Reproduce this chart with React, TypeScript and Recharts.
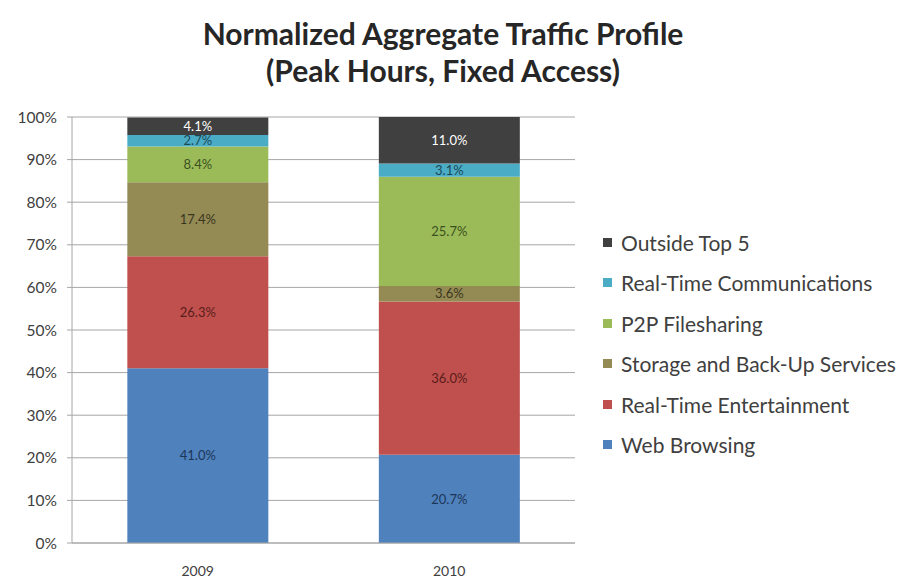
import { BarChart, Bar, XAxis, YAxis, CartesianGrid, LabelList } from 'recharts';

const years = ['2009', '2010'];
const webBrowsing = [41.0, 20.7];
const realTimeEntertainment = [26.3, 36.0];
const storageBackup = [17.4, 3.6];
const p2pFilesharing = [8.4, 25.7];
const realTimeComms = [2.7, 3.1];
const outsideTop5 = [4.1, 11.0];
const yTicks = [0, 10, 20, 30, 40, 50, 60, 70, 80, 90, 100];

const SERIES = [
  { key: 'web', name: 'Web Browsing', values: webBrowsing, color: '#4f81bd', text: '#1c3658' },
  { key: 'rte', name: 'Real-Time Entertainment', values: realTimeEntertainment, color: '#c0504d', text: '#5a1d1b' },
  { key: 'storage', name: 'Storage and Back-Up Services', values: storageBackup, color: '#948a54', text: '#3a361f' },
  { key: 'p2p', name: 'P2P Filesharing', values: p2pFilesharing, color: '#9bbb59', text: '#3b5220' },
  { key: 'rtc', name: 'Real-Time Communications', values: realTimeComms, color: '#4bacc6', text: '#1b4a57' },
  { key: 'other', name: 'Outside Top 5', values: outsideTop5, color: '#404040', text: '#ffffff' },
];

const data = years.map((year, i) => {
  const row: any = { year };
  SERIES.forEach((s) => {
    row[s.key] = s.values[i];
  });
  return row;
});

const FONT = 'Lato, "Open Sans", sans-serif';

function LegendBox() {
  const items = [...SERIES].reverse();
  return (
    <div
      style={{
        position: 'absolute',
        left: 603,
        top: 222,
        fontFamily: FONT,
        fontSize: 21,
        color: '#404040',
      }}
    >
      {items.map((s) => (
        <div key={s.key} style={{ display: 'flex', alignItems: 'center', height: 40.5, whiteSpace: 'nowrap' }}>
          <span style={{ width: 9, height: 9, background: s.color, marginRight: 9, display: 'inline-block' }} />
          <span>{s.name}</span>
        </div>
      ))}
    </div>
  );
}

export default function App() {
  return (
    <div style={{ position: 'absolute', left: 0, top: 0, width: 902, height: 583, background: '#fff' }}>
      <div
        style={{
          position: 'absolute',
          left: 0,
          top: 15,
          width: 886,
          textAlign: 'center',
          fontFamily: FONT,
          fontWeight: 700,
          fontSize: 30,
          lineHeight: '37px',
          color: '#262626',
        }}
      >
        Normalized Aggregate Traffic Profile
        <br />
        (Peak Hours, Fixed Access)
      </div>
      <BarChart
        width={902}
        height={583}
        data={data}
        margin={{ top: 117, right: 327, bottom: 10, left: 0 }}
        barCategoryGap="22%"
      >
        <CartesianGrid vertical={false} stroke="#a6a6a6" />
        <XAxis
          dataKey="year"
          tickLine={false}
          axisLine={{ stroke: '#a6a6a6' }}
          tick={{ fill: '#404040', fontSize: 14, fontFamily: FONT }}
          tickMargin={17}
          height={30}
        />
        <YAxis
          width={72}
          domain={[0, 100]}
          allowDataOverflow
          ticks={yTicks}
          tickFormatter={(v) => `${v}%`}
          axisLine={{ stroke: '#a6a6a6' }}
          tickLine={{ stroke: '#a6a6a6' }}
          tickSize={5}
          tickMargin={10}
          tick={{ fill: '#404040', fontSize: 15.5, fontFamily: FONT }}
        />
        {SERIES.map((s) => (
          <Bar key={s.key} dataKey={s.key} name={s.name} stackId="a" fill={s.color} isAnimationActive={false}>
            <LabelList
              dataKey={s.key}
              position="center"
              formatter={(v: any) => `${Number(v).toFixed(1)}%`}
              style={{ fill: s.text, fontSize: 13, fontFamily: FONT }}
            />
          </Bar>
        ))}
      </BarChart>
      <LegendBox />
    </div>
  );
}
